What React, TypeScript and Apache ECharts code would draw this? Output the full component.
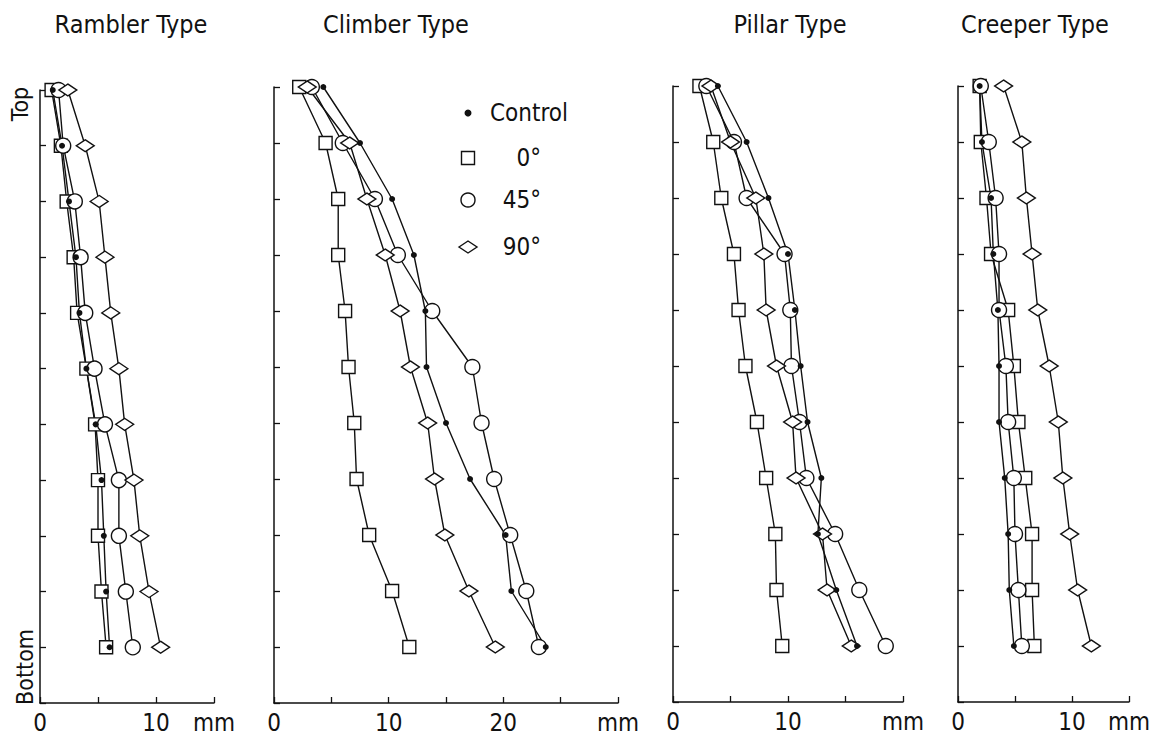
import React, { useEffect, useRef } from "react";
import * as echarts from "echarts";

// Row positions from top (0) to bottom (10)
const rows = [0, 1, 2, 3, 4, 5, 6, 7, 8, 9, 10];

// Rambler Type (mm)
const ramblerControl = [1.1, 1.9, 2.5, 3.1, 3.4, 4.0, 4.8, 5.3, 5.5, 5.7, 6.0];
const rambler0 = [1.0, 1.8, 2.3, 2.9, 3.2, 4.0, 4.75, 5.0, 5.0, 5.3, 5.7];
const rambler45 = [1.6, 2.0, 3.0, 3.5, 3.9, 4.7, 5.6, 6.8, 6.8, 7.4, 8.0];
const rambler90 = [2.4, 3.9, 5.1, 5.6, 6.1, 6.8, 7.3, 8.1, 8.6, 9.4, 10.4];

// Climber Type (mm)
const climberControl = [4.3, 7.5, 10.3, 12.2, 13.2, 13.3, 15.0, 17.1, 20.2, 20.7, 23.7];
const climber0 = [2.2, 4.5, 5.6, 5.6, 6.2, 6.5, 7.0, 7.2, 8.3, 10.3, 11.8];
const climber45 = [3.3, 6.0, 8.8, 10.8, 13.8, 17.3, 18.1, 19.2, 20.6, 22.0, 23.1];
const climber90 = [2.9, 6.6, 8.1, 9.7, 11.0, 11.9, 13.4, 14.0, 14.9, 17.0, 19.3];

// Pillar Type (mm)
const pillarControl = [3.9, 6.4, 8.3, 10.0, 10.6, 11.1, 11.7, 12.9, 12.6, 14.2, 16.0];
const pillar0 = [2.3, 3.5, 4.2, 5.3, 5.7, 6.3, 7.3, 8.1, 8.9, 9.0, 9.5];
const pillar45 = [2.9, 5.3, 6.4, 9.7, 10.2, 10.3, 11.0, 11.6, 14.1, 16.2, 18.5];
const pillar90 = [3.3, 5.0, 7.2, 7.9, 8.1, 9.0, 10.4, 10.7, 13.0, 13.4, 15.5];

// Creeper Type (mm)
const creeperControl = [1.9, 2.1, 2.9, 3.1, 3.5, 3.6, 3.6, 4.1, 4.4, 4.5, 4.9];
const creeper0 = [1.9, 2.0, 2.5, 2.9, 4.4, 4.9, 5.3, 5.9, 6.5, 6.5, 6.7];
const creeper45 = [2.0, 2.7, 3.3, 3.6, 3.6, 4.2, 4.4, 4.9, 5.0, 5.3, 5.6];
const creeper90 = [4.0, 5.6, 6.0, 6.5, 7.0, 8.0, 8.8, 9.2, 9.8, 10.5, 11.7];

const panelTitles = ["Rambler Type", "Climber Type", "Pillar Type", "Creeper Type"];
const seriesNames = ["Control", "0°", "45°", "90°"];
const axisMaxMm = [15, 30, 20, 15];
const unitLabel = "mm";
const topLabel = "Top";
const bottomLabel = "Bottom";

const panelData = [
  [ramblerControl, rambler0, rambler45, rambler90],
  [climberControl, climber0, climber45, climber90],
  [pillarControl, pillar0, pillar45, pillar90],
  [creeperControl, creeper0, creeper45, creeper90],
];

const layout = [
  { left: 40, top: 90, width: 174, height: 613, titleX: 131 },
  { left: 274, top: 87, width: 344, height: 616, titleX: 396 },
  { left: 673, top: 86, width: 230, height: 616, titleX: 790 },
  { left: 958, top: 86, width: 176, height: 616, titleX: 1035 },
];

const FONT = "'DejaVu Sans Condensed', 'Liberation Sans Narrow', 'DejaVu Sans', sans-serif";
const INK = "#111";

const markerStyles: any[] = [
  { symbol: "circle", symbolSize: 6, itemStyle: { color: INK, borderColor: INK, borderWidth: 0 } },
  { symbol: "rect", symbolSize: 13, itemStyle: { color: "#fff", borderColor: INK, borderWidth: 1.4 } },
  { symbol: "circle", symbolSize: 15, itemStyle: { color: "#fff", borderColor: INK, borderWidth: 1.4 } },
  { symbol: "diamond", symbolSize: [18, 12], itemStyle: { color: "#fff", borderColor: INK, borderWidth: 1.4 } },
];
// draw order: 0°, 45°, 90°, then Control on top
const drawOrder = [1, 2, 3, 0];

function buildOption(): any {
  const grid = layout.map((l) => ({
    left: l.left,
    top: l.top,
    width: l.width,
    height: l.height,
    containLabel: false,
  }));

  const xAxis = axisMaxMm.map((mx, i) => ({
    type: "value",
    gridIndex: i,
    position: "bottom",
    min: 0,
    max: mx,
    interval: 5,
    axisLine: { show: true, onZero: false, lineStyle: { color: INK, width: 1.5 } },
    axisTick: { show: true, inside: true, length: 6, lineStyle: { color: INK, width: 1.3 } },
    splitLine: { show: false },
    axisLabel: {
      show: true,
      showMinLabel: true,
      showMaxLabel: true,
      margin: 8,
      color: INK,
      fontFamily: FONT,
      fontSize: 24,
      formatter: (v: number) => (v === mx ? unitLabel : v % 10 === 0 ? String(v) : ""),
    },
  }));

  const yAxis = layout.map((_, i) => ({
    type: "value",
    gridIndex: i,
    position: "left",
    inverse: true,
    min: 0,
    max: 11,
    interval: 1,
    axisLine: { show: true, onZero: false, lineStyle: { color: INK, width: 1.5 } },
    axisTick: { show: true, inside: true, length: 6, lineStyle: { color: INK, width: 1.3 } },
    splitLine: { show: false },
    axisLabel: { show: false },
  }));

  const series: any[] = [];
  panelData.forEach((sets, p) => {
    drawOrder.forEach((s) => {
      const m = markerStyles[s];
      series.push({
        type: "line",
        name: seriesNames[s],
        xAxisIndex: p,
        yAxisIndex: p,
        data: sets[s].map((v, r) => [v, rows[r]]),
        symbol: m.symbol,
        symbolSize: m.symbolSize,
        showSymbol: true,
        itemStyle: m.itemStyle,
        lineStyle: { color: INK, width: 1.4 },
        emphasis: { disabled: true },
        silent: true,
      });
    });
  });

  const graphic: any[] = [];
  layout.forEach((l, i) => {
    graphic.push({
      type: "text",
      x: l.titleX,
      y: 24,
      style: {
        text: panelTitles[i],
        font: `25px ${FONT}`,
        fill: INK,
        align: "center",
        verticalAlign: "middle",
      },
    });
  });
  graphic.push({
    type: "text",
    x: 20,
    y: 104,
    rotation: Math.PI / 2,
    style: { text: topLabel, font: `23px ${FONT}`, fill: INK, align: "center", verticalAlign: "middle" },
  });
  graphic.push({
    type: "text",
    x: 25,
    y: 667,
    rotation: Math.PI / 2,
    style: { text: bottomLabel, font: `23px ${FONT}`, fill: INK, align: "center", verticalAlign: "middle" },
  });

  // Legend (in Climber panel)
  const lx = 468;
  const ly = [113, 158, 200, 247];
  graphic.push({ type: "circle", shape: { cx: lx, cy: ly[0], r: 3.5 }, style: { fill: INK } });
  graphic.push({
    type: "rect",
    shape: { x: lx - 6.5, y: ly[1] - 6.5, width: 13, height: 13 },
    style: { fill: "#fff", stroke: INK, lineWidth: 1.4 },
  });
  graphic.push({
    type: "circle",
    shape: { cx: lx, cy: ly[2], r: 7 },
    style: { fill: "#fff", stroke: INK, lineWidth: 1.4 },
  });
  graphic.push({
    type: "polygon",
    shape: { points: [[lx - 9, ly[3]], [lx, ly[3] - 6], [lx + 9, ly[3]], [lx, ly[3] + 6]] },
    style: { fill: "#fff", stroke: INK, lineWidth: 1.4 },
  });
  graphic.push({
    type: "text",
    x: 490,
    y: ly[0],
    style: { text: seriesNames[0], font: `24px ${FONT}`, fill: INK, align: "left", verticalAlign: "middle" },
  });
  [1, 2, 3].forEach((k) => {
    graphic.push({
      type: "text",
      x: 541,
      y: ly[k],
      style: { text: seriesNames[k], font: `24px ${FONT}`, fill: INK, align: "right", verticalAlign: "middle" },
    });
  });

  return {
    animation: false,
    backgroundColor: "#fff",
    grid,
    xAxis,
    yAxis,
    series,
    graphic,
  };
}

export default function App() {
  const ref = useRef<HTMLDivElement>(null);
  useEffect(() => {
    if (!ref.current) return;
    const chart = echarts.init(ref.current, undefined, { renderer: "svg" });
    chart.setOption(buildOption());
    return () => chart.dispose();
  }, []);
  return (
    <div
      ref={ref}
      style={{ position: "absolute", left: 0, top: 0, width: 1153, height: 737, background: "#fff" }}
    />
  );
}
